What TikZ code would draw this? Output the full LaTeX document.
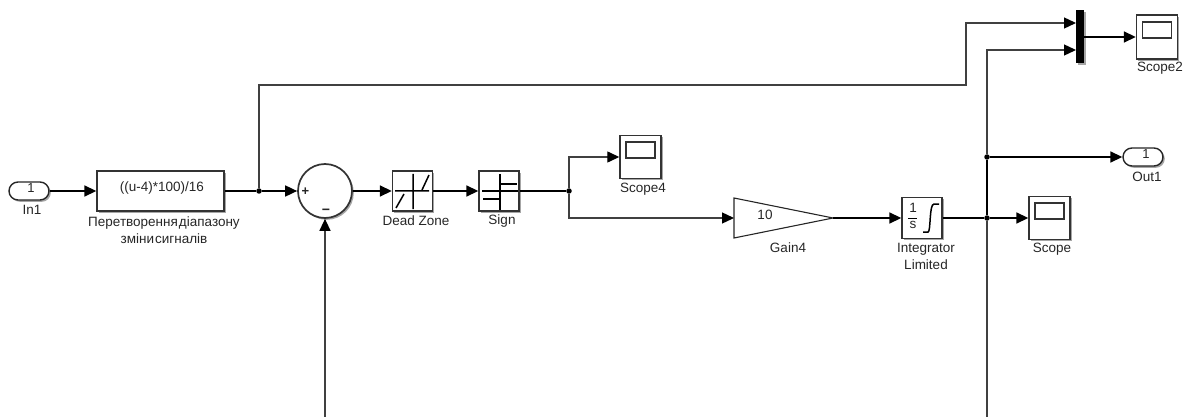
\documentclass[tikz,border=0pt]{standalone}
\usepackage{fontspec}
\setmainfont{Liberation Sans}
\usetikzlibrary{arrows.meta,shapes.misc,shadows,calc}
\tikzset{
  shade1/.style={drop shadow={shadow xshift=1.8pt,shadow yshift=-1.8pt,fill=black,opacity=.35}},
  blockbox/.style={draw=black!80,line width=1.4pt,fill=white,inner sep=0pt,shade1},
  portbox/.style={draw=black!85,line width=1.4pt,fill=white,inner sep=0pt,rounded rectangle,minimum width=40pt,minimum height=18pt,shade1},
  lbl/.style={font=\fontsize{13.5}{15}\selectfont,text=black!85,inner sep=0pt,align=center},
  wire/.style={line width=1.7pt,draw=black,-{Triangle[length=12pt,width=11pt,color=black,fill=black]}},
  wirethin/.style={line width=1.3pt,draw=black!75,-{Triangle[length=12pt,width=11pt,color=black,fill=black]}},
  plainwire/.style={line width=1.7pt,draw=black},
  plainthin/.style={line width=1.3pt,draw=black!75},
  dot/.style={circle,fill=black,inner sep=0pt,minimum size=5.5pt},
  icon/.style={line width=1.5pt,draw=black},
}
\newcommand\scopescreen[1]{\draw[line width=1.2pt,draw=black!80] ([shift={(-14.5,-15)}]#1.center) rectangle ++(29,16);}
\begin{document}
\begin{tikzpicture}[x=1pt,y=-1pt]
\useasboundingbox (0,0) rectangle (1192,417);
% blocks
\node[portbox] (in) at (29,191) {};
\node[lbl] (intxt) at (31,188.5) {\fontsize{13}{12}\selectfont 1};
\node[lbl] (inl) at (32,210) {In1};
\node[blockbox,minimum width=127pt,minimum height=40pt] (fcn) at (160.5,191) {};
\node[lbl] (fcntxt) at (162,188) {((u-4)*100)/16};
\node[lbl] (fcnl) at (164,230.5) {Перетворення\kern1pt діапазону\\[2pt]зміни\kern1pt сигналів};
\node[circle,blockbox,line width=1.7pt,minimum size=54pt] (sum) at (325,191) {};
\node[lbl,font=\bfseries\fontsize{13}{10}\selectfont] (plus) at (305.5,192) {+};
\node[lbl,font=\bfseries\fontsize{14}{10}\selectfont] (minus) at (326,211.5) {\textminus};
\node[blockbox,minimum size=40pt] (dz) at (412.5,191) {};
\node[lbl] (dzl) at (416,221) {Dead Zone};
\node[blockbox,minimum size=40pt] (sign) at (499,191) {};
\node[lbl] (signl) at (502,221) {Sign};
\node[blockbox,minimum width=41pt,minimum height=43pt] (sc4) at (640.5,157) {};
\node[lbl] (sc4l) at (643,189) {Scope4};
\coordinate (gainin) at (734,218);
\coordinate (gainout) at (833,218);
\draw[line width=1.1pt,draw=black!85,fill=white] (734,198) -- (833,218) -- (734,238) -- cycle;
\node[lbl] (gv) at (765,215) {10};
\node[lbl] (gl) at (788,248) {Gain4};
\node[blockbox,minimum width=40pt,minimum height=41pt] (int) at (922,218) {};
\node[lbl] (i1) at (913,207.5) {\fontsize{13.5}{12}\selectfont 1};
\node[lbl] (i2) at (913,225) {\fontsize{13.5}{12}\selectfont s};
\node[lbl] (intl) at (926,256.5) {Integrator\\[2pt]Limited};
\node[blockbox,minimum width=41pt,minimum height=43pt] (sc) at (1049.5,218) {};
\node[lbl] (scl) at (1052,249) {Scope};
\node[portbox] (out) at (1143,157) {};
\node[lbl] (outtxt) at (1146,154.5) {\fontsize{13}{12}\selectfont 1};
\node[lbl] (outl) at (1147,177) {Out1};
\node[rectangle,fill=black,inner sep=0pt,minimum width=8pt,minimum height=53pt,shade1] (mux) at (1080,36.5) {};
\node[blockbox,minimum width=41pt,minimum height=44pt] (sc2) at (1157,37) {};
\node[lbl] (sc2l) at (1160,68) {Scope2};
% icons
\scopescreen{sc4}\scopescreen{sc}\scopescreen{sc2}
\draw[icon] (395,191) -- (429,191) (413,174) -- (413,209) (396,208) -- (404,194) (422,190) -- (429,175);
\draw[icon] (482,191) -- (518,191) (500,174) -- (500,210) (500,184) -- (517,184) (483,199) -- (500,199);
\draw[line width=1.2pt] (908,218.5) -- (917,218.5);
\draw[icon] (923,232) -- (928,232) .. controls (931,232) and (929,204) .. (934,204) -- (939,204);
% junctions
\coordinate (fbsum) at (325,417);
\coordinate (fbint) at (987,417);
\coordinate (muxa) at (1076,23);
\coordinate (muxb) at (1076,50);
\coordinate (muxo) at (1084,37);
\coordinate (topc) at (966,85);
\node[dot] (j1) at (259,191) {};
\node[dot] (j2) at (569,191) {};
\node[dot] (j3) at (987,218) {};
\node[dot] (j4) at (987,157) {};
% wires
\draw[wire] (in.east) -- (fcn.west);
\draw[plainwire] (fcn.east) -- (j1);
\draw[wire] (j1) -- (sum.west);
\draw[wirethin] (j1) |- (topc) |- (muxa);
\draw[wirethin] (fbsum) -- (sum.south);
\draw[wire] (sum.east) -- (dz.west);
\draw[wire] (dz.east) -- (sign.west);
\draw[plainwire] (sign.east) -- (j2);
\draw[wirethin] (j2) |- (sc4.west);
\draw[wirethin] (j2) |- (gainin);
\draw[wire] (gainout) -- (int.west);
\draw[plainwire] (int.east) -- (j3);
\draw[wire] (j3) -- (sc.west);
\draw[plainthin] (fbint) -- (j3);
\draw[plainwire] (j3) -- (j4);
\draw[wire] (j4) -- (out.west);
\draw[wirethin] (j4) |- (muxb);
\draw[wire] (muxo) -- (sc2.west);
\end{tikzpicture}
\end{document}
